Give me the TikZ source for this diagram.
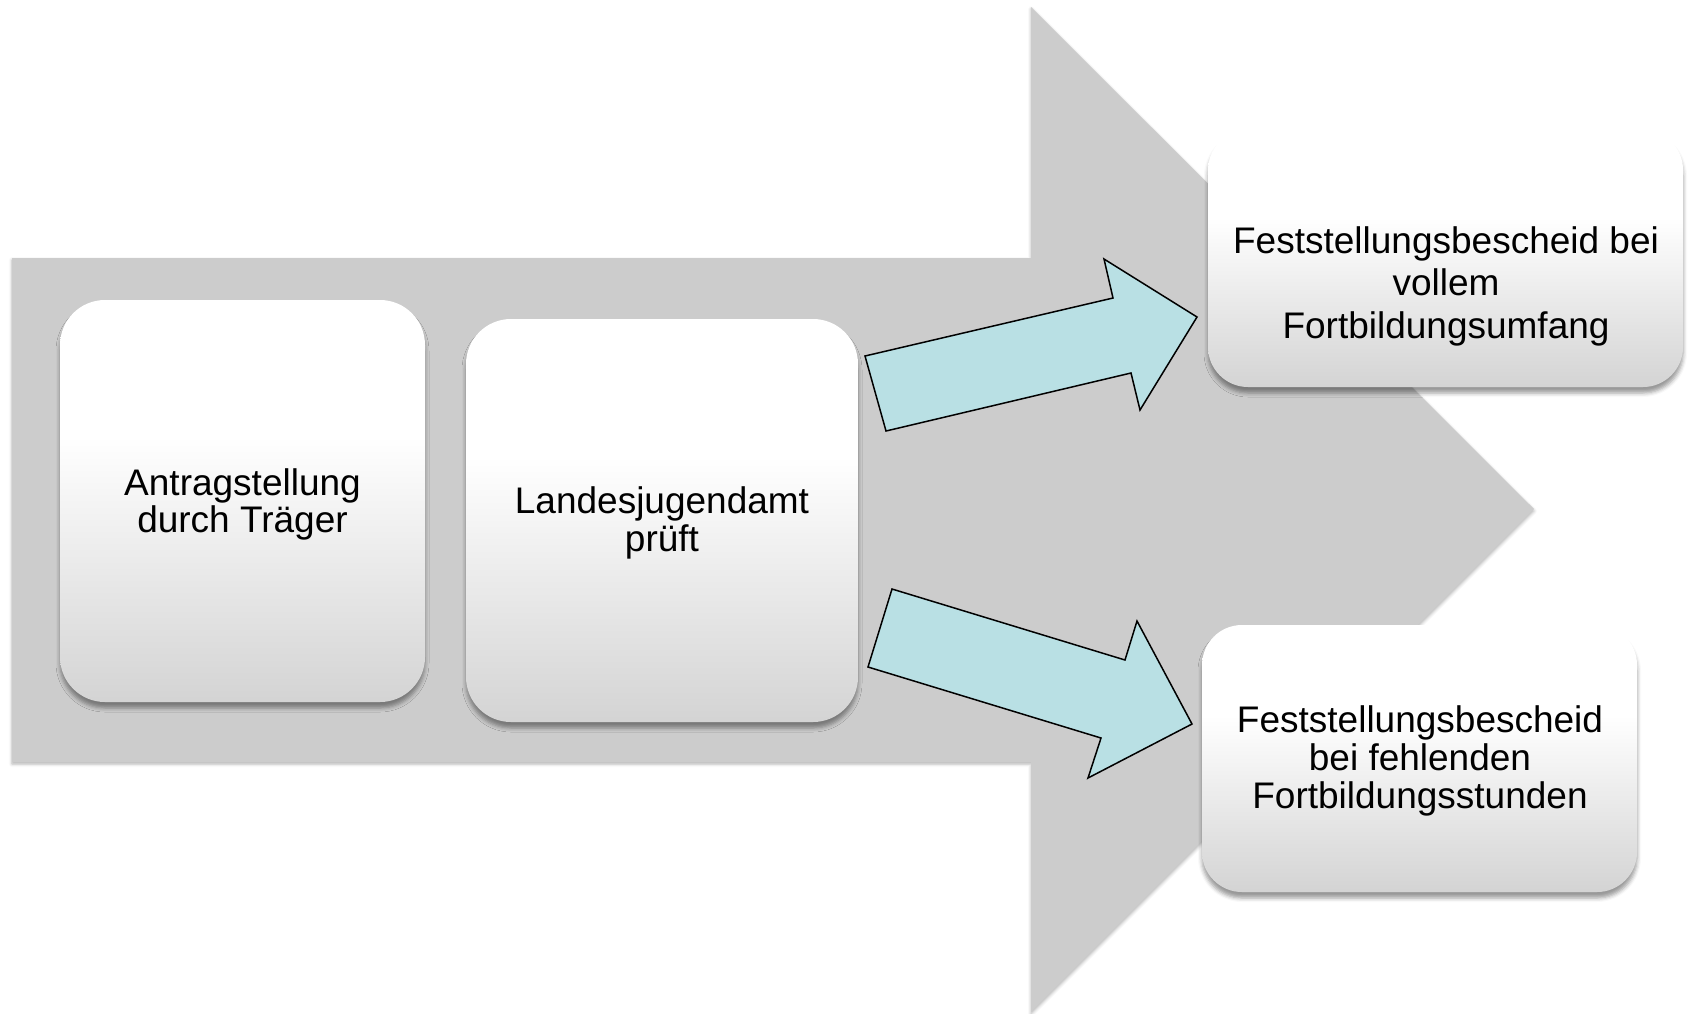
\documentclass[tikz,border=0pt]{standalone}
\usepackage{fontspec}
\setmainfont{Liberation Sans}
\usetikzlibrary{shadows.blur}
\definecolor{arrowgray}{RGB}{204,204,204}
\definecolor{flowblue}{RGB}{185,224,228}
\pgfdeclareverticalshading{boxshade}{100bp}{color(0bp)=(black!18); color(25bp)=(black!17); color(58bp)=(white); color(100bp)=(white)}
\tikzset{
  bigarrow/.style={fill=arrowgray, blur shadow={shadow xshift=0pt, shadow yshift=-2pt, shadow blur radius=3pt, shadow opacity=30}},
  stagebox/.style={rectangle, draw=none, inner sep=0pt, shading=boxshade,
    blur shadow={shadow xshift=0pt, shadow yshift=-6pt, shadow blur radius=4pt, shadow opacity=40}},
  flowarrow/.style={fill=flowblue, draw=black, line width=1.5pt, line join=miter},
  txt/.style={align=center, inner sep=0pt, text=black},
}
\begin{document}
\begin{tikzpicture}[x=1pt, y=-1pt]
\useasboundingbox (0,0) rectangle (1688,1013);
% big background arrow
\fill[bigarrow] (12,258) -- (1031,258) -- (1031,7) -- (1534,509) -- (1031,1012) -- (1031,762) -- (12,762) -- cycle;
% first two boxes
\node[stagebox, rounded corners=45pt, minimum width=365pt, minimum height=402pt] (b1) at (242.5,501) {};
\node[stagebox, rounded corners=45pt, minimum width=392pt, minimum height=403pt] (b2) at (662,520.5) {};
% block arrows
\draw[flowarrow] (865,356) -- (1113,298) -- (1104,259) -- (1197,317) -- (1140,410) -- (1131,373) -- (886,431) -- cycle;
\draw[flowarrow] (892,589) -- (1125,660) -- (1137,621) -- (1192,724) -- (1088,778) -- (1101,738) -- (868,667) -- cycle;
% result boxes
\node[stagebox, rounded corners=40pt, minimum width=475pt, minimum height=257pt] (b3) at (1445.5,258.5) {};
\node[stagebox, rounded corners=40pt, minimum width=435pt, minimum height=267pt] (b4) at (1419.5,758.5) {};
% texts
\node[txt, font=\fontsize{37}{37}\selectfont] (t1) at (242.5,504) {Antragstellung\\durch Träger};
\node[txt, font=\fontsize{37}{38.4}\selectfont] (t2) at (662,523) {Landesjugendamt\\prüft};
\node[txt, font=\fontsize{37}{42.5}\selectfont] (t3) at (1446,286) {Feststellungsbescheid bei\\vollem\\Fortbildungsumfang};
\node[txt, font=\fontsize{37}{38}\selectfont] (t4) at (1420,760.5) {Feststellungsbescheid\\bei fehlenden\\Fortbildungsstunden};
\end{tikzpicture}
\end{document}
